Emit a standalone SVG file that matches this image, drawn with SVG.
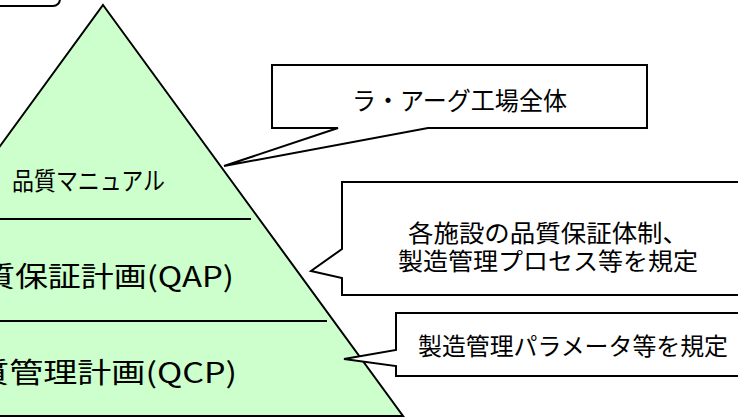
<svg xmlns="http://www.w3.org/2000/svg" width="738" height="420" viewBox="0 0 738 420">
<style>
.shape{stroke:#000;stroke-width:2;stroke-linejoin:miter}
.pyr{fill:#CCFFCC}
.box{fill:#fff}
.div{stroke:#000;stroke-width:2}
text{font-family:"Noto Sans CJK JP","Noto Sans",sans-serif;fill:#000}
.t28{font-size:28px}
.t25{font-size:25px}
.t24{font-size:24px}
</style>
<rect width="738" height="420" fill="#fff"/>
<g id="title-box">
<rect class="shape box" x="-100" y="-40" width="160" height="46" rx="7"/>
</g>
<g id="pyramid">
<polygon class="shape pyr" points="103,5 403,416 -197,416"/>
<line class="div" x1="-2" y1="219" x2="251" y2="219"/>
<line class="div" x1="-2" y1="321" x2="327" y2="321"/>
<text class="t25" x="12" y="190" textLength="153" lengthAdjust="spacingAndGlyphs">品質マニュアル</text>
<text class="t28" x="-51" y="287" textLength="285" lengthAdjust="spacingAndGlyphs">品質保証計画(QAP)</text>
<text class="t28" x="-59" y="383" textLength="296" lengthAdjust="spacingAndGlyphs">品質管理計画(QCP)</text>
</g>
<g id="connectors"></g>
<g id="callout-plant">
<path class="shape box" d="M272,65 H647 V128 H428 L224,166 L338,128 H272 Z"/>
<text class="t25" x="352" y="110" textLength="215" lengthAdjust="spacingAndGlyphs">ラ・アーグ工場全体</text>
</g>
<g id="callout-qap">
<path class="shape box" d="M342,182 H745 V295 H342 V278 L311,271 L342,249 Z"/>
<text class="t24" x="408" y="242" textLength="280" lengthAdjust="spacingAndGlyphs">各施設の品質保証体制、</text>
<text class="t24" x="398" y="270" textLength="300" lengthAdjust="spacingAndGlyphs">製造管理プロセス等を規定</text>
</g>
<g id="callout-qcp">
<path class="shape box" d="M396,313 H745 V376 H396 V366 L344,359 L396,350 Z"/>
<text class="t24" x="418" y="355" textLength="310" lengthAdjust="spacingAndGlyphs">製造管理パラメータ等を規定</text>
</g>
</svg>
